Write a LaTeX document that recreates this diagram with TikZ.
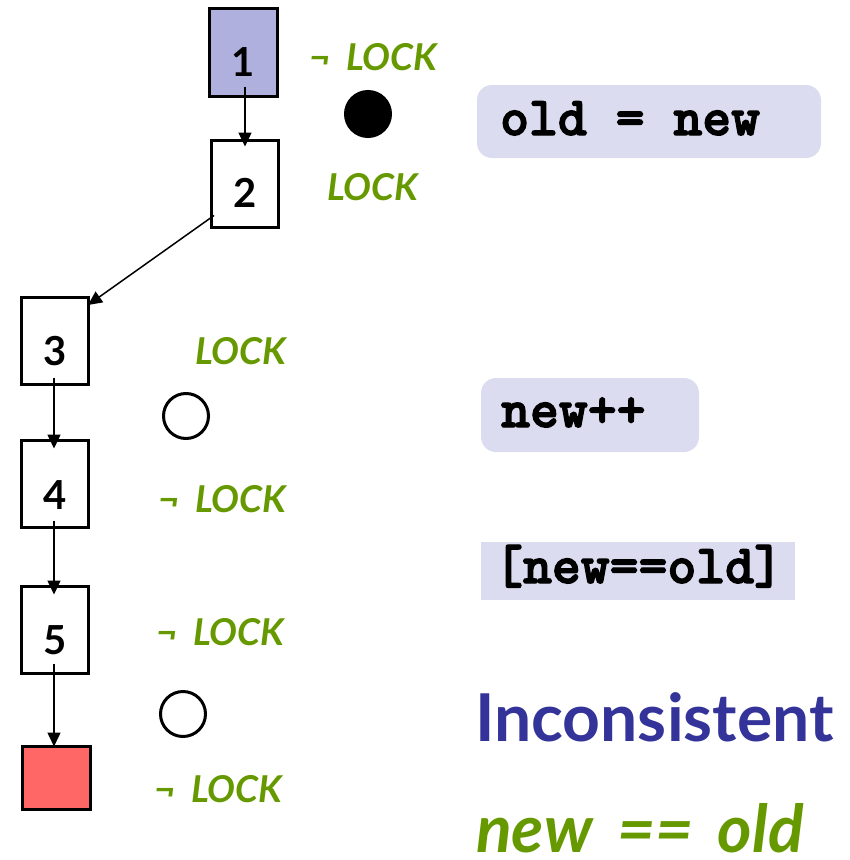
\documentclass[tikz,border=0pt]{standalone}
\usepackage{fontspec}
\setmainfont{Lato}
\newfontfamily\codefont[FakeBold=2.5]{lmmonolt10-bold.otf}
\usetikzlibrary{arrows.meta}
\definecolor{lockgreen}{HTML}{669900}
\definecolor{incblue}{HTML}{333399}
\definecolor{codebg}{HTML}{DCDCF0}
\definecolor{startfill}{HTML}{AFB0DD}
\definecolor{endfill}{HTML}{FF6666}
\newcommand{\notlock}{¬\hspace{0.42em}LOCK}
\begin{document}
\begin{tikzpicture}[x=1bp,y=-1bp,
  statebox/.style={draw=black, line width=3bp, minimum width=67bp, minimum height=87bp, inner sep=0pt, outer sep=0pt},
  numlbl/.style={font=\fontsize{40bp}{48bp}\selectfont\bfseries, inner sep=0pt},
  lock/.style={text=lockgreen, font=\fontsize{37bp}{44bp}\selectfont\bfseries\itshape, anchor=base west, inner sep=0pt},
  arr/.style={-{Triangle[length=14bp,width=13bp]}, line width=1.5bp},
  code/.style={font=\codefont\fontsize{55bp}{62bp}\selectfont, anchor=base west, inner sep=0pt},
  codebox/.style={fill=codebg, inner sep=0pt, outer sep=0pt},
  dot/.style={circle, line width=3bp, draw=black, minimum size=45bp, inner sep=0pt}
]
\useasboundingbox (0,0) rectangle (850,860);

% state boxes
\node[statebox, fill=startfill, minimum width=68bp, minimum height=88bp] (b1) at (243.5,52.5) {};
\node[statebox] (b2) at (245,184) {};
\node[statebox] (b3) at (55,340.5) {};
\node[statebox] (b4) at (55,484) {};
\node[statebox] (b5) at (55,630) {};
\node[statebox, fill=endfill, minimum width=68bp, minimum height=63bp] (b6) at (56.5,778) {};

\node[numlbl] (n1) at ([yshift=-10bp]b1.center) {1};
\node[numlbl] (n2) at ([yshift=-9bp]b2.center) {2};
\node[numlbl] (n3) at ([yshift=-11bp]b3.center) {3};
\node[numlbl] (n4) at ([yshift=-11bp]b4.center) {4};
\node[numlbl] (n5) at ([yshift=-10bp]b5.center) {5};

% connectors
\draw[arr] ([xshift=1.5bp,yshift=10bp]b1.south) -- ([yshift=-6bp]b2.north);
\draw[arr] ([xshift=2.5bp,yshift=12bp]b2.south west) -- ([xshift=-0.5bp,yshift=-8bp]b3.north east);
\draw[arr] ([xshift=-1bp,yshift=6bp]b3.south) -- ([xshift=-1bp,yshift=-8bp]b4.north);
\draw[arr] ([xshift=-1bp,yshift=7bp]b4.south) -- ([xshift=-1bp,yshift=-8bp]b5.north);
\draw[arr] ([xshift=-1bp,yshift=10bp]b5.south) -- ([xshift=-1bp]b5.south |- b6.north);

% lock labels
\node[lock] (l1) at (309,70) {\notlock};
\node[lock] (l2) at (327,200) {LOCK};
\node[lock] (l3) at (195,364) {LOCK};
\node[lock] (l4) at (158,512) {\notlock};
\node[lock] (l5) at (156,645) {\notlock};
\node[lock] (l6) at (154,802) {\notlock};

% circles
\node[dot, fill=black] (c1) at (368,114) {};
\node[dot] (c2) at (186,416) {};
\node[dot] (c3) at (183,714) {};

% code boxes
\node[codebox, rounded corners=15bp, minimum width=344bp, minimum height=73bp] (r1) at (649,121.5) {};
\node[code] (t1) at (500,135) {old = new};
\node[codebox, rounded corners=15bp, minimum width=218bp, minimum height=74bp] (r2) at (590,415) {};
\node[code] (t2) at (501,427) {new++};
\node[codebox, minimum width=314bp, minimum height=58bp] (r3) at (638,571) {};
\node[code] (t3) at (494,583) {[new==old]};

% conclusion
\node[anchor=base west, inner sep=0pt, text=incblue, font=\fontsize{66bp}{78bp}\selectfont\bfseries] (inc) at (475,741) {Inconsistent};
\node[anchor=base west, inner sep=0pt, text depth=0pt, text=lockgreen, font=\fontsize{66bp}{78bp}\selectfont\bfseries\itshape] (eq) at (476,852) {new \hspace{0.15em}== \hspace{0.15em}old};
\end{tikzpicture}
\end{document}
